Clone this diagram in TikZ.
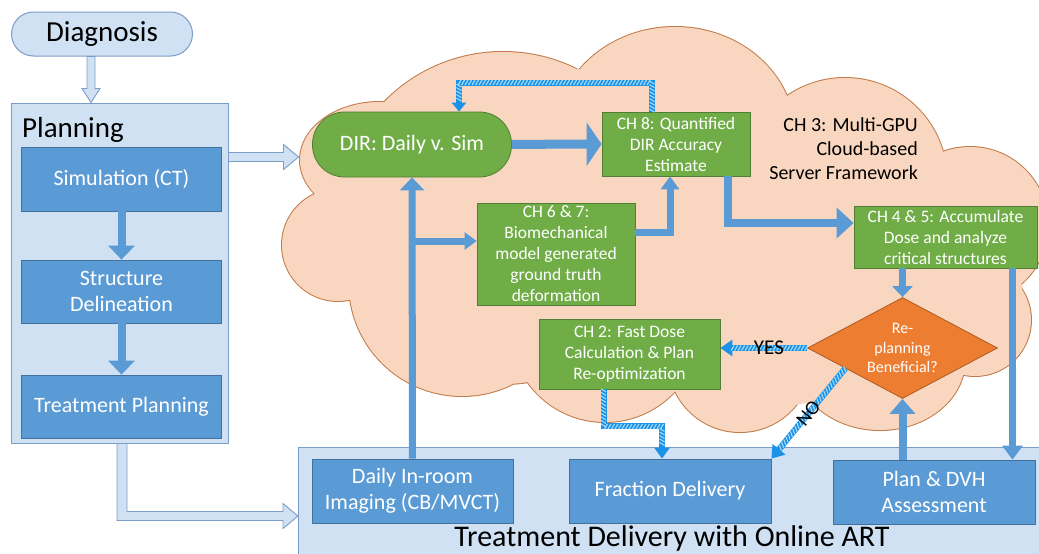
\documentclass[tikz,border=0pt]{standalone}
\usepackage{fontspec}
\setmainfont{Carlito}
\usetikzlibrary{arrows.meta,calc,shapes.geometric,decorations.markings}

\definecolor{planfill}{HTML}{CFE1F3}
\definecolor{planline}{HTML}{7C9DC7}
\definecolor{boxblue}{HTML}{5B9BD5}
\definecolor{boxblueline}{HTML}{41719C}
\definecolor{boxgreen}{HTML}{70AD47}
\definecolor{boxgreenline}{HTML}{507E32}
\definecolor{boxorange}{HTML}{ED7D31}
\definecolor{boxorangeline}{HTML}{AE5A21}
\definecolor{cloudfill}{HTML}{F9D6BF}
\definecolor{cloudline}{HTML}{C27B4A}
\definecolor{hatchblue}{HTML}{1A92E6}
\definecolor{hatchlight}{HTML}{A8DCF8}

\newcommand\fsz[2]{\fontsize{#1}{#2}\selectfont}

% lobes whose union forms the cloud
\newcommand\cloudlobes{
  (380,160) ellipse [x radius=80, y radius=58]
  (338,245) circle [radius=56]
  (462,283) circle [radius=113]
  (605,327) circle [radius=95]
  (740,360) circle [radius=72]
  (880,360) ellipse [x radius=85, y radius=70]
  (975,320) circle [radius=56]
  (970,225) circle [radius=78]
  (845,180) circle [radius=102]
  (675,135) ellipse [x radius=120, y radius=108]
  (503,218) circle [radius=166]
}

\tikzset{
  lightframe/.style={draw=planline, fill=planfill, line width=1pt},
  bluebox/.style={draw=boxblueline, fill=boxblue, text=white, line width=0.8pt,
    inner sep=0pt, align=center, font=\fsz{22}{26.4}},
  greenbox/.style={draw=boxgreenline, fill=boxgreen, text=white, line width=0.8pt,
    inner sep=0pt, align=center, font=\fsz{17.5}{21}},
  flow/.style={draw=boxblue, line width=8pt},
  hollow/.style={draw=planline, fill=planfill, line width=0.9pt, line join=miter},
  hatch/.style={draw=hatchblue, line width=6pt, postaction={decorate},
    decoration={markings, mark=between positions 1pt and -12pt step 3.5pt with
      {\draw[hatchlight, line width=1.1pt, arrows=-] (-1.5pt,-2.5pt) -- (1.5pt,2.5pt);}}},
  tag/.style={text=black, font=\fsz{21}{25}, inner sep=0pt},
}

\begin{document}
\begin{tikzpicture}[x=1pt,y=-1pt]
\useasboundingbox (0,0) rectangle (1039,554);
\clip (0,0) rectangle (1039,554);

% cloud: outline of every lobe, then the fills hide the inner parts
\draw[cloudline, line width=2pt] \cloudlobes;
\fill[cloudfill] \cloudlobes;
\fill[cloudfill] (385,102) -- (570,68) -- (790,100) -- (943,152) -- (1023,287)
  -- (962,375) -- (795,405) -- (675,391) -- (528,378) -- (352,300) -- (318,196) -- cycle;

\node[font=\fsz{20}{24}, align=right, anchor=east, inner sep=0pt] (ch3) at (918,149)
  {CH 3: Multi-GPU\\Cloud-based\\Server Framework};

% frames
\node[lightframe, minimum width=181pt, minimum height=44pt, rounded corners=22pt,
  font=\fsz{29}{34}] (diag) at (102,34) {Diagnosis};
\node[lightframe, minimum width=217pt, minimum height=340pt] (planbox) at (119.5,273) {};
\node[anchor=base west, font=\fsz{29}{34}, inner sep=0pt] (plantitle) at (22,137) {Planning};
\node[lightframe, minimum width=752pt, minimum height=123pt] (band) at (674,508.5) {};
\node[font=\fsz{30}{36}, inner sep=0pt] (bandtitle) at (672,538)
  {Treatment Delivery with Online ART};

% planning steps
\node[bluebox, minimum width=200pt, minimum height=64pt] (sim) at (121.5,179) {Simulation (CT)};
\node[bluebox, minimum width=200pt, minimum height=63pt] (struct) at (121.5,291.5) {Structure\\Delineation};
\node[bluebox, minimum width=200pt, minimum height=63pt] (tplan) at (121.5,406.5) {Treatment Planning};

% delivery steps
\node[bluebox, minimum width=201pt, minimum height=64pt] (daily) at (412.5,491) {Daily In-room\\Imaging (CB/MVCT)};
\node[bluebox, minimum width=202pt, minimum height=64pt] (frac) at (670,491) {Fraction Delivery};
\node[bluebox, minimum width=202pt, minimum height=64pt] (pdvh) at (934,492) {Plan \& DVH\\Assessment};

% server steps
\node[greenbox, minimum width=199pt, minimum height=65pt, rounded corners=32pt,
  font=\fsz{22}{26.4}] (dir) at (412,144.5) {DIR: Daily v. Sim};
\node[greenbox, minimum width=148pt, minimum height=64pt] (ch8) at (676,144)
  {CH 8: Quantified\\DIR Accuracy\\Estimate};
\node[greenbox, minimum width=158pt, minimum height=102pt] (ch67) at (556,254)
  {CH 6 \& 7:\\Biomechanical\\model generated\\ground truth\\deformation};
\node[greenbox, minimum width=183pt, minimum height=62pt] (ch45) at (945.5,237)
  {CH 4 \& 5: Accumulate\\Dose and analyze\\critical structures};
\node[greenbox, minimum width=181pt, minimum height=70pt] (ch2) at (629.5,354)
  {CH 2: Fast Dose\\Calculation \& Plan\\Re-optimization};
\node[diamond, draw=boxorangeline, fill=boxorange, line width=0.8pt,
  minimum width=190pt, minimum height=101pt, inner sep=0pt] (dia) at (902.5,348) {};
\node[text=white, align=center, font=\fsz{16}{19.5}, inner sep=0pt] (diatext) at (dia.center)
  {Re-\\planning\\Beneficial?};

% hollow arrows between the stages
\coordinate (d1) at ($(diag.south)+(-11,0)$);
\draw[hollow] ($(d1)+(-4,0)$) -- ++(0,32) -- ++(-5,0) -- ++(9,14) -- ++(9,-14)
  -- ++(-5,0) -- ++(0,-32) -- cycle;
\coordinate (p1) at ($(planbox.north east)+(0,54.5)$);
\draw[hollow] ($(p1)+(0,-4.5)$) -- ++(55,0) -- ++(0,-8) -- ++(15,12.5) -- ++(-15,12.5)
  -- ++(0,-8) -- ++(-55,0) -- cycle;
\coordinate (p2) at ($(planbox.south)+(2.5,0)$);
\draw[hollow] ($(p2)+(-5,0)$) -- ++(0,77) -- ++(166,0) -- ++(0,8) -- ++(15,-12.5)
  -- ++(-15,-12.5) -- ++(0,8) -- ++(-156,0) -- ++(0,-68) -- cycle;

% solid flows
\draw[flow, -{Triangle[length=14pt,width=26pt]}] (sim) -- (struct);
\draw[flow, -{Triangle[length=14pt,width=26pt]}] (struct) -- (tplan);
\draw[flow, line width=9pt, -{Triangle[length=15pt,width=43pt]}] (dir) -- (ch8);
\draw[flow, line width=7pt, -{Triangle[length=13pt,width=24pt]}] (daily) -- (dir);
\coordinate (b67) at ($(ch67.west)+(0,-13)$);
\draw[flow, line width=7pt, -{Triangle[length=12pt,width=17pt]}] (dir.south |- b67) -- (b67);
\draw[flow, line width=7pt, -{Triangle[length=13pt,width=18pt]}]
  ($(ch67.east)+(0,-22)$) -| ($(ch8.south)+(-6,0)$);
\draw[flow, line width=8pt, -{Triangle[length=17pt,width=30pt]}]
  ($(ch8.south)+(52,0)$) |- ($(ch45.west)+(0,-14)$);
\draw[flow, line width=7pt, -{Triangle[length=11pt,width=20pt]}] (dia.north |- ch45.south) -- (dia.north);
\coordinate (r45) at ($(ch45.south)+(67,0)$);
\draw[flow, line width=7pt, -{Triangle[length=14pt,width=20pt]}] (r45) -- (r45 |- pdvh.north);
\draw[flow, line width=8pt, -{Triangle[length=15pt,width=25pt]}] (dia.south |- pdvh.north) -- (dia.south);

% hatched flows
\draw[hatch, -{Triangle[length=12pt,width=16pt]}] (dia.west) -- node[tag, pos=0.44] {YES} (dia.west -| ch2.east);
\draw[hatch, -{Triangle[length=12pt,width=16pt]}] ($(dia.south west)!0.2!(dia.west)$)
  -- node[tag, pos=0.5, sloped, font=\fsz{20}{24}] {NO} (frac.north east);
\coordinate (f2) at ($(frac.north)+(-8,0)$);
\draw[hatch, -{Triangle[length=11pt,width=15pt]}] ($(ch2.south)+(-26,0)$) -- ++(0,37) -| (f2);
\draw[hatch, -{Triangle[length=9pt,width=14pt]}] ($(ch8.north)+(-24,0)$) -- ++(0,-29)
  -| ($(dir.north)+(47,0)$);
\end{tikzpicture}
\end{document}
